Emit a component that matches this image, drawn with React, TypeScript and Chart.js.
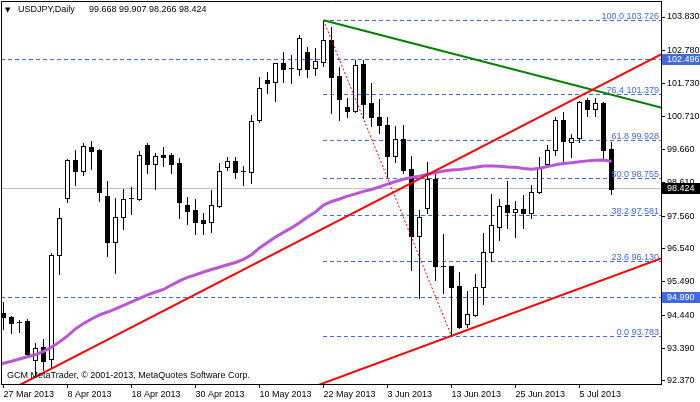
import React, { useEffect, useRef } from 'react';
import { Chart, registerables } from 'chart.js';

Chart.register(...registerables);

// ---------- data ----------
const symbolTitle = 'USDJPY,Daily';
const titleValues = '99.668 99.907 98.266 98.424';
const copyright = 'GCM MetaTrader, \u00A9 2001-2013, MetaQuotes Software Corp.';

// bar index 0 = 27 Mar 2013 ... 76 = 11 Jul 2013 (daily, weekdays)
const dateTickIndex = [0, 8, 16, 24, 32, 40, 48, 56, 64, 72];
const dateTickLabels = ['27 Mar 2013', '8 Apr 2013', '18 Apr 2013', '30 Apr 2013', '10 May 2013', '22 May 2013', '3 Jun 2013', '13 Jun 2013', '25 Jun 2013', '5 Jul 2013'];

const priceTicks = [103.83, 102.78, 101.73, 100.71, 99.66, 98.61, 97.56, 96.54, 95.49, 94.44, 93.39, 92.37];

const opens = [
  94.52, 94.38, 94.21, 94.26, 93.03, 93.43, 93.05, 96.34, 98.14, 99.32,
  98.99, 99.73, 99.64, 98.19, 96.75, 97.52, 98.11, 98.11, 99.80, 99.19,
  99.47, 99.49, 99.22, 97.91, 97.75, 97.44, 97.37, 97.88, 99.12, 99.30,
  98.97, 98.96, 100.58, 101.85, 101.77, 102.37, 102.21, 102.19, 102.72, 102.21,
  102.42, 103.11, 101.97, 100.99, 100.88, 102.35, 101.11, 100.67, 100.43, 99.46,
  99.99, 99.04, 96.93, 97.83, 98.72, 95.99, 95.99, 95.36, 94.15, 94.45,
  95.32, 96.44, 97.23, 97.91, 97.70, 97.78, 97.65, 98.31, 99.19, 99.63,
  100.58, 99.88, 100.01, 101.22, 100.92, 101.11, 99.668,
];
const highs = [
  94.87, 94.42, 94.29, 94.32, 93.57, 93.69, 96.39, 97.81, 99.35, 99.64,
  99.85, 99.94, 99.66, 98.67, 98.14, 98.41, 98.49, 99.62, 99.87, 99.54,
  99.73, 99.54, 99.38, 98.15, 98.09, 97.65, 98.38, 99.22, 99.43, 99.43,
  99.15, 100.74, 101.95, 102.11, 102.39, 102.72, 102.63, 103.26, 102.88, 102.84,
  103.73, 103.53, 102.27, 101.27, 102.48, 102.48, 101.74, 101.24, 100.67, 100.40,
  100.43, 99.45, 97.75, 99.26, 99.01, 96.99, 95.99, 95.81, 95.21, 95.73,
  97.02, 98.26, 98.10, 98.68, 98.04, 98.23, 98.54, 99.41, 99.80, 100.67,
  100.84, 100.15, 101.19, 101.27, 101.27, 101.16, 99.907,
];
const lows = [
  94.00, 93.87, 93.92, 93.18, 92.50, 92.71, 92.77, 95.73, 98.00, 98.54,
  98.85, 99.05, 98.05, 96.30, 95.78, 97.16, 97.63, 98.08, 98.93, 98.41,
  99.15, 98.93, 97.51, 97.31, 96.99, 96.99, 97.05, 97.86, 99.01, 98.77,
  98.55, 98.61, 100.51, 101.45, 101.20, 101.79, 101.76, 102.00, 101.93, 102.00,
  102.30, 100.80, 100.59, 100.69, 100.85, 100.64, 100.40, 100.17, 98.80, 99.28,
  98.93, 95.86, 94.97, 97.67, 95.55, 95.13, 93.78, 94.03, 94.08, 94.40,
  94.79, 96.15, 96.81, 97.20, 96.91, 97.20, 97.51, 98.28, 99.14, 99.49,
  99.27, 99.43, 99.90, 100.72, 100.72, 99.36, 98.266,
];
const closes = [
  94.37, 94.19, 94.23, 93.21, 93.42, 93.01, 96.34, 97.51, 99.32, 98.99,
  99.77, 99.62, 98.33, 96.75, 97.52, 98.09, 98.12, 99.49, 99.19, 99.45,
  99.43, 99.21, 98.02, 97.73, 97.39, 97.35, 97.90, 98.98, 99.29, 98.96,
  98.99, 100.55, 101.58, 101.76, 102.37, 102.19, 102.22, 103.16, 102.19, 102.45,
  103.11, 101.95, 101.26, 100.88, 102.32, 101.10, 100.69, 100.43, 99.46, 99.99,
  99.01, 96.93, 97.52, 98.73, 95.99, 96.00, 95.34, 94.08, 94.47, 95.32,
  96.42, 97.27, 97.88, 97.70, 97.78, 97.67, 98.31, 99.10, 99.63, 100.58,
  99.91, 100.01, 101.14, 100.92, 101.11, 99.64, 98.424,
];

// moving average, starting at bar index -1
const maStart = -1;
const maValues = [
  92.86, 92.93, 92.99, 93.06, 93.13, 93.20, 93.30, 93.43, 93.60, 93.79,
  94.01, 94.18, 94.32, 94.45, 94.54, 94.64, 94.75, 94.86, 94.97, 95.08,
  95.17, 95.25, 95.39, 95.52, 95.63, 95.71, 95.80, 95.88, 95.95, 96.03,
  96.10, 96.20, 96.34, 96.56, 96.73, 96.90, 97.05, 97.19, 97.35, 97.53,
  97.69, 97.91, 98.02, 98.10, 98.19, 98.26, 98.34, 98.40, 98.48, 98.57,
  98.65, 98.72, 98.78, 98.82, 98.88, 98.93, 98.98, 99.01, 99.03, 99.06,
  99.10, 99.14, 99.14, 99.13, 99.11, 99.10, 99.06, 99.04, 99.07, 99.12,
  99.18, 99.22, 99.24, 99.27, 99.30, 99.32, 99.33, 99.28,
];

// Fibonacci retracement
const fibStartIndex = 40;
const fibLevels = [100.0, 76.4, 61.8, 50.0, 38.2, 23.6, 0.0];
const fibPrices = [103.726, 101.379, 99.928, 98.755, 97.581, 96.13, 93.783];
const fibBase = [[40, 103.726], [56, 93.783]];

// horizontal lines and bid
const hLinePrices = [102.496, 94.99];
const bidPrice = 98.424;

// trend lines: anchors [barIndex, price]
const upperRedLine = [[4, 92.5], [76, 101.85]];
const lowerRedLine = [[56, 93.79], [76, 95.65]];
const greenLine = [[40, 103.726], [76, 101.38]];

// ---------- styles ----------
const FONT = "'Liberation Sans', Arial, sans-serif";
const BLUE = '#4169E1';
const X_MIN = -0.3125;
const X_MAX = 82.1875;
const Y_MIN = 92.274;
const Y_MAX = 104.334;

function drawLine(ctx: CanvasRenderingContext2D, chart: any, anchors: number[][], mode: 'both' | 'ray' | 'segment') {
  const { chartArea: a, scales } = chart;
  const x1 = scales.x.getPixelForValue(anchors[0][0]);
  const y1 = scales.y.getPixelForValue(anchors[0][1]);
  const x2 = scales.x.getPixelForValue(anchors[1][0]);
  const y2 = scales.y.getPixelForValue(anchors[1][1]);
  const m = (y2 - y1) / (x2 - x1);
  let xs = x1, xe = x2;
  if (mode === 'both') { xs = a.left; xe = a.right; }
  if (mode === 'ray') { xe = a.right; }
  ctx.beginPath();
  ctx.moveTo(xs, y1 + m * (xs - x1));
  ctx.lineTo(xe, y1 + m * (xe - x1));
  ctx.stroke();
}

const backgroundPlugin = {
  id: 'mtBackground',
  beforeDatasetsDraw(chart: any) {
    const { ctx, chartArea: a, scales } = chart;
    const { x, y } = scales;
    ctx.save();
    ctx.beginPath();
    ctx.rect(a.left, a.top, a.right - a.left, a.bottom - a.top);
    ctx.clip();
    ctx.lineWidth = 1;
    // bid line
    ctx.strokeStyle = '#C0C0C0';
    ctx.setLineDash([]);
    const yb = Math.floor(y.getPixelForValue(bidPrice)) + 0.5;
    ctx.beginPath(); ctx.moveTo(a.left, yb); ctx.lineTo(a.right, yb); ctx.stroke();
    // horizontal dashed lines
    ctx.strokeStyle = BLUE;
    ctx.setLineDash([4, 3]);
    for (const p of hLinePrices) {
      const py = Math.floor(y.getPixelForValue(p)) + 0.5;
      ctx.beginPath(); ctx.moveTo(a.left, py); ctx.lineTo(a.right, py); ctx.stroke();
    }
    // fib levels
    const xf = Math.floor(x.getPixelForValue(fibStartIndex));
    for (const p of fibPrices) {
      const py = Math.floor(y.getPixelForValue(p)) + 0.5;
      ctx.beginPath(); ctx.moveTo(xf, py); ctx.lineTo(a.right, py); ctx.stroke();
    }
    ctx.setLineDash([]);
    // candles
    for (let i = 0; i < opens.length; i++) {
      const cx = Math.floor(x.getPixelForValue(i));
      const yo = y.getPixelForValue(opens[i]);
      const yc = y.getPixelForValue(closes[i]);
      const yh = Math.round(y.getPixelForValue(highs[i]));
      const yl = Math.round(y.getPixelForValue(lows[i]));
      ctx.fillStyle = '#000';
      ctx.fillRect(cx, yh, 1, Math.max(1, yl - yh + 1));
      const top = Math.round(Math.min(yo, yc));
      const bot = Math.round(Math.max(yo, yc));
      if (bot - top <= 1) {
        ctx.fillStyle = '#000';
        ctx.fillRect(cx - 2, top, 5, 1);
      } else if (closes[i] >= opens[i]) {
        ctx.fillStyle = '#fff';
        ctx.fillRect(cx - 2, top, 5, bot - top + 1);
        ctx.strokeStyle = '#000';
        ctx.strokeRect(cx - 1.5, top + 0.5, 4, bot - top);
      } else {
        ctx.fillStyle = '#000';
        ctx.fillRect(cx - 2, top, 5, bot - top + 1);
      }
    }
    ctx.restore();
  },
  afterDatasetsDraw(chart: any) {
    const { ctx, chartArea: a, scales } = chart;
    const { y } = scales;
    ctx.save();
    ctx.beginPath();
    ctx.rect(a.left, a.top, a.right - a.left, a.bottom - a.top);
    ctx.clip();
    // trend lines
    ctx.lineWidth = 2;
    ctx.setLineDash([]);
    ctx.strokeStyle = '#008000';
    drawLine(ctx, chart, greenLine, 'ray');
    ctx.strokeStyle = '#FF0000';
    drawLine(ctx, chart, upperRedLine, 'both');
    drawLine(ctx, chart, lowerRedLine, 'both');
    // fib base dotted
    ctx.lineWidth = 1;
    ctx.setLineDash([2, 2]);
    drawLine(ctx, chart, fibBase, 'segment');
    ctx.setLineDash([]);
    // fib labels
    ctx.font = `9px ${FONT}`;
    ctx.fillStyle = BLUE;
    ctx.textAlign = 'right';
    ctx.textBaseline = 'alphabetic';
    fibLevels.forEach((lvl, k) => {
      const py = Math.floor(y.getPixelForValue(fibPrices[k]));
      ctx.fillText(`${lvl.toFixed(1)} ${fibPrices[k].toFixed(3)}`, a.right - 2, py - 1);
    });
    // copyright
    ctx.fillStyle = '#000';
    ctx.textAlign = 'left';
    ctx.textBaseline = 'middle';
    ctx.fillText(copyright, a.left + 6, a.bottom - 8);
    // title
    ctx.font = `7px 'DejaVu Sans', ${FONT}`;
    ctx.fillText('\u25BC', a.left + 4, 10);
    ctx.font = `9px ${FONT}`;
    ctx.fillText(symbolTitle, a.left + 17, 10);
    ctx.fillText(titleValues, a.left + 88, 10);
    ctx.restore();
    // frame
    ctx.save();
    ctx.strokeStyle = '#000';
    ctx.lineWidth = 1;
    ctx.beginPath();
    ctx.moveTo(a.left + 0.5, a.bottom);
    ctx.lineTo(a.left + 0.5, a.top + 0.5);
    ctx.lineTo(a.right, a.top + 0.5);
    ctx.stroke();
    ctx.restore();
  },
  afterDraw(chart: any) {
    const { ctx, chartArea: a, scales, width } = chart;
    const { y } = scales;
    ctx.save();
    ctx.font = `9px ${FONT}`;
    ctx.textAlign = 'left';
    ctx.textBaseline = 'middle';
    const box = (price: number, bg: string) => {
      const py = Math.floor(y.getPixelForValue(price));
      ctx.fillStyle = bg;
      ctx.fillRect(a.right + 1, py - 5, width - a.right - 1, 11);
      ctx.fillStyle = '#fff';
      ctx.fillText(price.toFixed(3), a.right + 6, py + 0.5);
    };
    hLinePrices.forEach((p) => box(p, BLUE));
    box(bidPrice, '#000');
    ctx.restore();
  },
};

export default function App() {
  const ref = useRef<HTMLCanvasElement | null>(null);
  useEffect(() => {
    document.body.style.margin = '0';
    const canvas = ref.current;
    if (!canvas) return;
    const maPoints = maValues.map((v, k) => ({ x: maStart + k, y: v }));
    const chart = new Chart(canvas, {
      type: 'line',
      data: {
        datasets: [
          {
            data: maPoints,
            borderColor: '#BA55D3',
            borderWidth: 3,
            pointRadius: 0,
            tension: 0,
            fill: false,
          },
        ],
      },
      options: {
        animation: false,
        responsive: false,
        devicePixelRatio: 1,
        layout: { padding: { left: 1, top: 1, right: 0, bottom: 0 } },
        plugins: { legend: { display: false }, tooltip: { enabled: false } },
        scales: {
          x: {
            type: 'linear',
            position: 'bottom',
            min: X_MIN,
            max: X_MAX,
            afterBuildTicks: (s: any) => {
              s.ticks = dateTickIndex.map((v) => ({ value: v }));
            },
            afterFit: (s: any) => {
              s.height = 18;
              s.paddingLeft = 0; s.paddingRight = 0; s.paddingTop = 0; s.paddingBottom = 0;
            },
            ticks: {
              autoSkip: false,
              maxRotation: 0,
              minRotation: 0,
              align: 'start',
              padding: 1,
              color: '#000',
              font: { family: FONT, size: 9 },
              callback: (v: any) => {
                const k = dateTickIndex.indexOf(Number(v));
                return k >= 0 ? dateTickLabels[k] : '';
              },
            },
            grid: { drawOnChartArea: false, drawTicks: true, tickLength: 4, color: '#000' },
            border: { display: true, color: '#000', width: 1 },
          },
          y: {
            type: 'linear',
            position: 'right',
            min: Y_MIN,
            max: Y_MAX,
            afterBuildTicks: (s: any) => {
              s.ticks = priceTicks.map((v) => ({ value: v }));
            },
            afterFit: (s: any) => {
              s.width = 39;
              s.paddingLeft = 0; s.paddingRight = 0; s.paddingTop = 0; s.paddingBottom = 0;
            },
            ticks: {
              padding: 2,
              color: '#000',
              font: { family: FONT, size: 9 },
              callback: (v: any) => Number(v).toFixed(3),
            },
            grid: { drawOnChartArea: false, drawTicks: true, tickLength: 4, color: '#000' },
            border: { display: true, color: '#000', width: 1 },
          },
        },
      },
      plugins: [backgroundPlugin],
    } as any);
    return () => chart.destroy();
  }, []);
  return (
    <div style={{ width: 700, height: 402, position: 'relative' }}>
      <canvas ref={ref} width={700} height={402} style={{ display: 'block' }} />
    </div>
  );
}
